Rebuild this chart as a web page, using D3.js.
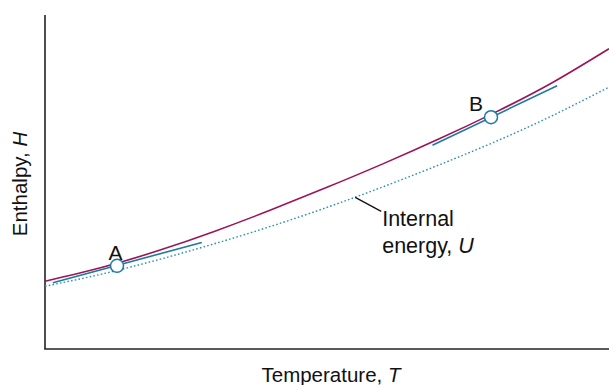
<!DOCTYPE html>
<html>
<head>
<meta charset="utf-8">
<script src="https://cdn.jsdelivr.net/npm/d3@7"></script>
<style>
  body { margin: 0; background: #fff; }
  text { font-family: "Liberation Sans", Arial, sans-serif; fill: #111; }
</style>
</head>
<body>
<div id="chart"></div>
<script>
// Temperature samples (arbitrary units) and curve values
const temperature = [0, 1, 2, 3, 4, 5, 6, 7, 8, 9, 10];
const enthalpy = [2.03, 2.44, 2.94, 3.52, 4.16, 4.84, 5.55, 6.30, 7.10, 7.98, 8.99];
const internalEnergy = [1.88, 2.24, 2.67, 3.15, 3.67, 4.24, 4.86, 5.52, 6.22, 6.99, 7.84];

// tangent segments on the enthalpy curve, and the marked points
const tangentA = [{ T: 0.14, v: 1.985 }, { T: 2.78, v: 3.19 }];
const tangentB = [{ T: 6.87, v: 6.10 }, { T: 9.08, v: 7.88 }];
const points = [
  { name: "A", T: 1.277, v: 2.49, dx: -1.5, dy: -5.5 },
  { name: "B", T: 7.908, v: 6.94, dx: -15, dy: -6.5 }
];
const leaderStart = { T: 5.50, v: 4.54 };

const width = 609, height = 385;
const margin = { top: 15, right: 0, bottom: 36, left: 45 };

const svg = d3.select("#chart").append("svg")
    .attr("width", width)
    .attr("height", height);

const x = d3.scaleLinear().domain([0, 10]).range([margin.left, width - margin.right]);
const y = d3.scaleLinear().domain([0, 10]).range([height - margin.bottom, margin.top]);

// axes (plain lines, no ticks)
svg.append("line")
    .attr("x1", x(0)).attr("x2", x(0))
    .attr("y1", y(10)).attr("y2", y(0))
    .attr("stroke", "#222").attr("stroke-width", 1.6);
svg.append("line")
    .attr("x1", x(0) - 0.8).attr("x2", x(10))
    .attr("y1", y(0)).attr("y2", y(0))
    .attr("stroke", "#222").attr("stroke-width", 1.6);

const line = d3.line()
    .x(d => x(d[0]))
    .y(d => y(d[1]))
    .curve(d3.curveNatural);

// internal energy, dotted
svg.append("path")
    .datum(temperature.map((t, i) => [t, internalEnergy[i]]))
    .attr("d", line)
    .attr("fill", "none")
    .attr("stroke", "#2f8cb4")
    .attr("stroke-width", 1.4)
    .attr("stroke-dasharray", "1.6,2.2");

// tangents
const seg = d3.line().x(d => x(d.T)).y(d => y(d.v));
[tangentA, tangentB].forEach(t => {
    svg.append("path")
        .attr("d", seg(t))
        .attr("fill", "none")
        .attr("stroke", "#1b7aa3")
        .attr("stroke-width", 1.6);
});

// enthalpy
svg.append("path")
    .datum(temperature.map((t, i) => [t, enthalpy[i]]))
    .attr("d", line)
    .attr("fill", "none")
    .attr("stroke", "#9c1459")
    .attr("stroke-width", 1.6);

// points A and B
svg.selectAll("circle.pt")
    .data(points)
    .join("circle")
    .attr("class", "pt")
    .attr("cx", d => x(d.T))
    .attr("cy", d => y(d.v))
    .attr("r", 6.5)
    .attr("fill", "#fff")
    .attr("stroke", "#1b7aa3")
    .attr("stroke-width", 1.5);

svg.selectAll("text.pt")
    .data(points)
    .join("text")
    .attr("class", "pt")
    .attr("x", d => x(d.T) + d.dx)
    .attr("y", d => y(d.v) + d.dy)
    .attr("text-anchor", "middle")
    .attr("font-size", 21)
    .text(d => d.name);

// leader and label for internal energy
const lx = x(leaderStart.T), ly = y(leaderStart.v);
svg.append("line")
    .attr("x1", lx).attr("y1", ly)
    .attr("x2", lx + 26).attr("y2", ly + 14)
    .attr("stroke", "#111").attr("stroke-width", 1.3);

const lab = svg.append("text")
    .attr("x", lx + 27)
    .attr("y", ly + 28.5)
    .attr("font-size", 21.5);
lab.append("tspan").text("Internal");
lab.append("tspan")
    .attr("x", lx + 27).attr("dy", 27)
    .text("energy, ");
lab.append("tspan").attr("font-style", "italic").text("U");

// axis titles
const xt = svg.append("text")
    .attr("x", 331)
    .attr("y", 382)
    .attr("text-anchor", "middle")
    .attr("font-size", 20.5);
xt.append("tspan").text("Temperature, ");
xt.append("tspan").attr("font-style", "italic").text("T");

const yt = svg.append("text")
    .attr("transform", "translate(27,184) rotate(-90)")
    .attr("text-anchor", "middle")
    .attr("font-size", 20.5);
yt.append("tspan").text("Enthalpy, ");
yt.append("tspan").attr("font-style", "italic").text("H");
</script>
</body>
</html>
